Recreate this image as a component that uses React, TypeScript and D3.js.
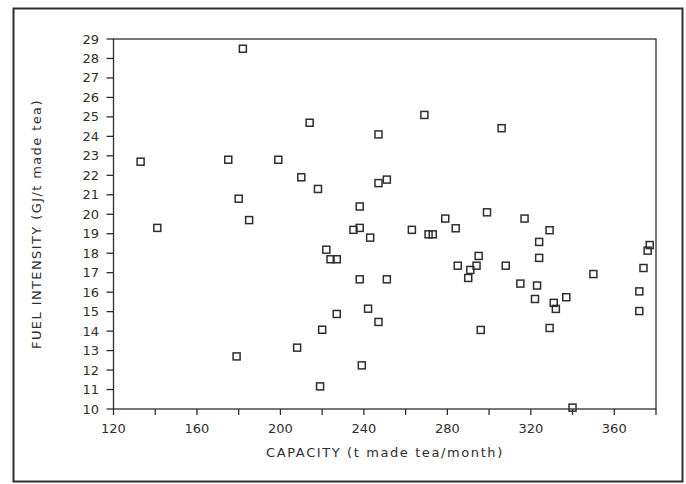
import React from 'react';
import { scaleLinear, range } from 'd3';

// capacity (t made tea/month) and fuel intensity (GJ/t made tea)
const capacity = [
  133, 141, 182, 175, 180, 185, 179, 199, 210, 214, 218, 208, 220, 219, 222, 224,
  227, 227, 235, 238, 238, 238, 243, 242, 239, 247, 247, 251, 251, 247, 269, 263,
  271, 273, 279, 284, 285, 291, 290, 294, 295, 296, 299, 306, 308, 317, 315, 322,
  324, 324, 323, 329, 329, 331, 332, 337, 340, 350, 372, 372, 374, 377, 376,
];
const intensity = [
  22.7, 19.3, 28.5, 22.8, 20.8, 19.7, 12.7, 22.8, 21.9, 24.7, 21.3, 13.15, 14.07, 11.16, 18.18, 17.69,
  17.69, 14.88, 19.2, 19.3, 20.4, 16.66, 18.8, 15.15, 12.24, 24.1, 21.6, 21.78, 16.66, 14.47, 25.1, 19.2,
  18.97, 18.97, 19.78, 19.28, 17.36, 17.14, 16.73, 17.36, 17.86, 14.06, 20.1, 24.42, 17.36, 19.78, 16.44, 15.65,
  18.58, 17.76, 16.34, 19.18, 14.16, 15.45, 15.14, 15.74, 10.07, 16.93, 16.04, 15.03, 17.24, 18.42, 18.13,
];
const xTicks = range(120, 381, 20);
const xLabels = [120, 160, 200, 240, 280, 320, 360];
const yTicks = range(10, 30, 1);

const ink = '#2e2e2e';
const font = '"DejaVu Sans", sans-serif';

export default function App() {
  const width = 686;
  const height = 484;
  const left = 113.5;
  const right = 656;
  const top = 39;
  const bottom = 409;

  const x = scaleLinear().domain([120, 380]).range([left, right]);
  const y = scaleLinear().domain([10, 29]).range([bottom, top]);
  const sq = 7;

  return (
    <svg
      width={width}
      height={height}
      style={{ position: 'absolute', left: 0, top: 0, background: '#fff' }}
    >
      {/* outer frame */}
      <rect x={13.5} y={8.5} width={669} height={473} fill="none" stroke={ink} strokeWidth={2} />

      {/* plot box */}
      <rect
        x={left}
        y={top}
        width={right - left}
        height={bottom - top}
        fill="none"
        stroke={ink}
        strokeWidth={1.3}
      />

      {/* y axis */}
      {yTicks.map((t) => (
        <g key={t}>
          <line x1={left - 7} x2={left} y1={y(t)} y2={y(t)} stroke={ink} strokeWidth={1.3} />
          <text
            x={99}
            y={y(t)}
            dy="0.35em"
            textAnchor="end"
            fontFamily={font}
            fontSize={13}
            fill={ink}
          >
            {t}
          </text>
        </g>
      ))}

      {/* x axis */}
      {xTicks.map((t) => (
        <line key={t} x1={x(t)} x2={x(t)} y1={bottom} y2={bottom + 6} stroke={ink} strokeWidth={1.3} />
      ))}
      {xLabels.map((t) => (
        <text
          key={t}
          x={x(t)}
          y={433}
          textAnchor="middle"
          fontFamily={font}
          fontSize={13}
          fill={ink}
        >
          {t}
        </text>
      ))}

      <text
        x={385}
        y={457}
        textAnchor="middle"
        fontFamily={font}
        fontSize={13}
        letterSpacing={1.6}
        fill={ink}
      >
        CAPACITY (t made tea/month)
      </text>
      <text
        transform={`translate(41,224) rotate(-90)`}
        textAnchor="middle"
        fontFamily={font}
        fontSize={13}
        letterSpacing={1.4}
        fill={ink}
      >
        FUEL INTENSITY (GJ/t made tea)
      </text>

      {capacity.map((c, i) => (
        <rect
          key={i}
          x={x(c) - sq / 2}
          y={y(intensity[i]) - sq / 2}
          width={sq}
          height={sq}
          fill="none"
          stroke={ink}
          strokeWidth={1.5}
        />
      ))}
    </svg>
  );
}
